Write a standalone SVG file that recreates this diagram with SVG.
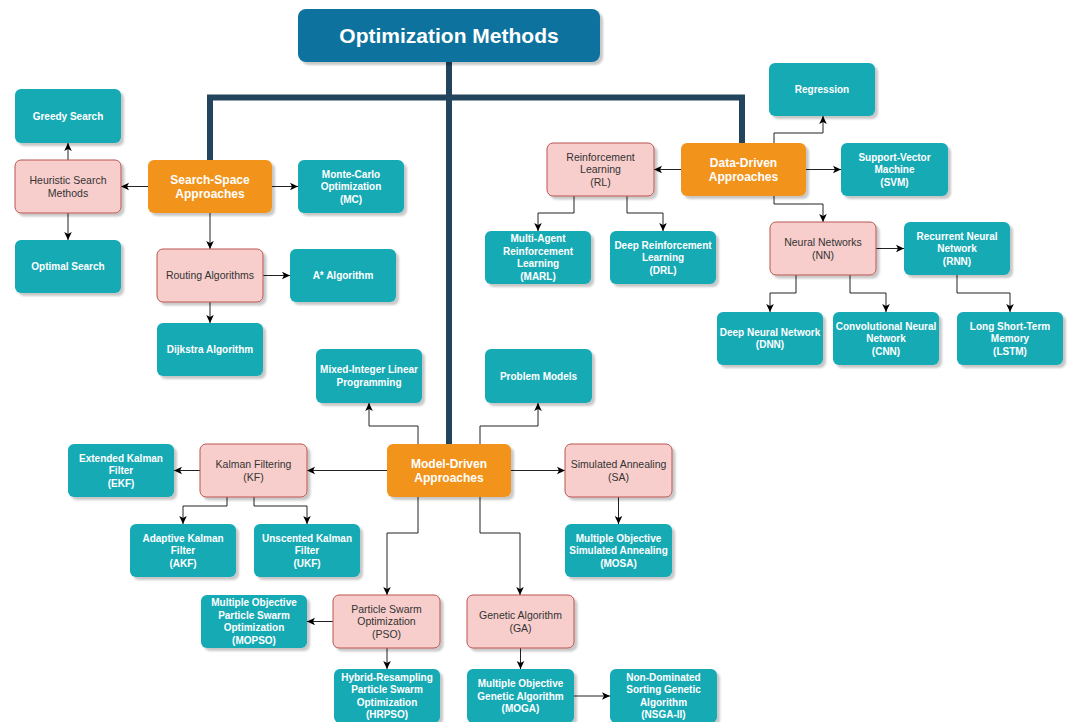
<svg xmlns="http://www.w3.org/2000/svg" width="1067" height="722" viewBox="0 0 1067 722">
<style>
.teal{fill:#12aab5;stroke:none}
.pink{fill:#f8cecc;stroke:#b85450;stroke-width:1}
.orange{fill:#f2931e;stroke:none}
.title{fill:#10739e;stroke:none}
.tt{font-family:"Liberation Sans",Arial,sans-serif;font-size:10px;font-weight:bold;fill:#ffffff;text-anchor:middle}
.pt{font-family:"Liberation Sans",Arial,sans-serif;font-size:10.5px;fill:#333333;text-anchor:middle}
.ot{font-family:"Liberation Sans",Arial,sans-serif;font-size:12px;font-weight:bold;fill:#ffffff;text-anchor:middle}
.ht{font-family:"Liberation Sans",Arial,sans-serif;font-size:21px;font-weight:bold;fill:#ffffff;text-anchor:middle}
.c{fill:none;stroke:#222222;stroke-width:1;marker-end:url(#arr)}
.thick{fill:none;stroke:#23445d;stroke-width:6}
</style>
<defs>
<filter id="sh" x="-10%" y="-10%" width="130%" height="130%">
<feOffset in="SourceAlpha" dx="2.5" dy="3"/>
<feGaussianBlur stdDeviation="1"/>
<feComponentTransfer><feFuncA type="linear" slope="0.22"/></feComponentTransfer>
<feMerge><feMergeNode/><feMergeNode in="SourceGraphic"/></feMerge>
</filter>
<marker id="arr" markerUnits="userSpaceOnUse" markerWidth="10" markerHeight="10" viewBox="0 0 10 10" refX="9" refY="5" orient="auto">
<path d="M1,1.2 L9,5 L1,8.8 L3,5 Z" fill="#000000"/>
</marker>
</defs>
<rect width="1067" height="722" fill="#ffffff"/>
<g id="connectors">
<path class="thick" d="M449,62 V444"/>
<path class="thick" d="M210,160 V97.5 H742 V143"/>
<path class="c" d="M148,186.5 H121"/>
<path class="c" d="M272,186.5 H298"/>
<path class="c" d="M210,213 V249"/>
<path class="c" d="M68,160 V143"/>
<path class="c" d="M68,213 V240"/>
<path class="c" d="M263,275.5 H290"/>
<path class="c" d="M210,302 V323"/>
<path class="c" d="M681,169.5 H654"/>
<path class="c" d="M806,169.5 H841"/>
<path class="c" d="M774,143 V133 H823 V116"/>
<path class="c" d="M774,196 V204 H823 V222"/>
<path class="c" d="M574,196 V213 H538 V231"/>
<path class="c" d="M627,196 V213 H663 V231"/>
<path class="c" d="M876,248.5 H904"/>
<path class="c" d="M796,275 V293 H770 V312"/>
<path class="c" d="M850,275 V293 H886 V312"/>
<path class="c" d="M957,275 V293 H1010 V312"/>
<path class="c" d="M387,470.5 H307"/>
<path class="c" d="M200,470.5 H174"/>
<path class="c" d="M227,497 V506 H183 V524"/>
<path class="c" d="M254,497 V506 H307 V524"/>
<path class="c" d="M418,444 V426 H369 V403"/>
<path class="c" d="M480,444 V426 H538 V403"/>
<path class="c" d="M511,470.5 H565"/>
<path class="c" d="M618.5,497 V524"/>
<path class="c" d="M418,497 V533 H387 V595"/>
<path class="c" d="M480,497 V533 H520 V595"/>
<path class="c" d="M333,621.5 H307"/>
<path class="c" d="M387,648 V669"/>
<path class="c" d="M520.5,648 V669"/>
<path class="c" d="M574,696 H610"/>
</g>
<g id="n-title"><rect class="title" filter="url(#sh)" x="298" y="9" width="302" height="53" rx="8"/><text class="ht" x="449" y="43">Optimization Methods</text></g>
<g id="n-greedy"><rect class="teal" filter="url(#sh)" x="15" y="89" width="106" height="54" rx="6"/><text class="tt" x="68" y="119.5">Greedy Search</text></g>
<g id="n-heuristic"><rect class="pink" filter="url(#sh)" x="15" y="160" width="106" height="53" rx="6"/><text class="pt" x="68" y="184"><tspan x="68">Heuristic Search</tspan><tspan x="68" dy="12.5">Methods</tspan></text></g>
<g id="n-optimal"><rect class="teal" filter="url(#sh)" x="15" y="240" width="106" height="53" rx="6"/><text class="tt" x="68" y="270">Optimal Search</text></g>
<g id="n-searchspace"><rect class="orange" filter="url(#sh)" x="148" y="160" width="124" height="53" rx="6"/><text class="ot" x="210" y="183.7"><tspan x="210">Search-Space</tspan><tspan x="210" dy="14">Approaches</tspan></text></g>
<g id="n-mc"><rect class="teal" filter="url(#sh)" x="298" y="160" width="106" height="53" rx="6"/><text class="tt" x="351" y="177.5"><tspan x="351">Monte-Carlo</tspan><tspan x="351" dy="12.5">Optimization</tspan><tspan x="351" dy="12.5">(MC)</tspan></text></g>
<g id="n-routing"><rect class="pink" filter="url(#sh)" x="157" y="249" width="106" height="53" rx="6"/><text class="pt" x="210" y="279.2">Routing Algorithms</text></g>
<g id="n-astar"><rect class="teal" filter="url(#sh)" x="290" y="249" width="106" height="53" rx="6"/><text class="tt" x="343" y="279">A* Algorithm</text></g>
<g id="n-dijkstra"><rect class="teal" filter="url(#sh)" x="157" y="323" width="106" height="53" rx="6"/><text class="tt" x="210" y="353">Dijkstra Algorithm</text></g>
<g id="n-regression"><rect class="teal" filter="url(#sh)" x="769" y="63" width="106" height="53" rx="6"/><text class="tt" x="822" y="93">Regression</text></g>
<g id="n-rl"><rect class="pink" filter="url(#sh)" x="547" y="143" width="107" height="53" rx="6"/><text class="pt" x="600.5" y="160.7"><tspan x="600.5">Reinforcement</tspan><tspan x="600.5" dy="12.5">Learning</tspan><tspan x="600.5" dy="12.5">(RL)</tspan></text></g>
<g id="n-datadriven"><rect class="orange" filter="url(#sh)" x="681" y="143" width="125" height="53" rx="6"/><text class="ot" x="743.5" y="166.7"><tspan x="743.5">Data-Driven</tspan><tspan x="743.5" dy="14">Approaches</tspan></text></g>
<g id="n-svm"><rect class="teal" filter="url(#sh)" x="841" y="143" width="107" height="53" rx="6"/><text class="tt" x="894.5" y="160.5"><tspan x="894.5">Support-Vector</tspan><tspan x="894.5" dy="12.5">Machine</tspan><tspan x="894.5" dy="12.5">(SVM)</tspan></text></g>
<g id="n-marl"><rect class="teal" filter="url(#sh)" x="485" y="231" width="106" height="53" rx="6"/><text class="tt" x="538" y="242.25"><tspan x="538">Multi-Agent</tspan><tspan x="538" dy="12.5">Reinforcement</tspan><tspan x="538" dy="12.5">Learning</tspan><tspan x="538" dy="12.5">(MARL)</tspan></text></g>
<g id="n-drl"><rect class="teal" filter="url(#sh)" x="610" y="231" width="106" height="53" rx="6"/><text class="tt" x="663" y="248.5"><tspan x="663">Deep Reinforcement</tspan><tspan x="663" dy="12.5">Learning</tspan><tspan x="663" dy="12.5">(DRL)</tspan></text></g>
<g id="n-nn"><rect class="pink" filter="url(#sh)" x="770" y="222" width="106" height="53" rx="6"/><text class="pt" x="823" y="246"><tspan x="823">Neural Networks</tspan><tspan x="823" dy="12.5">(NN)</tspan></text></g>
<g id="n-rnn"><rect class="teal" filter="url(#sh)" x="904" y="222" width="106" height="53" rx="6"/><text class="tt" x="957" y="239.5"><tspan x="957">Recurrent Neural</tspan><tspan x="957" dy="12.5">Network</tspan><tspan x="957" dy="12.5">(RNN)</tspan></text></g>
<g id="n-dnn"><rect class="teal" filter="url(#sh)" x="717" y="312" width="106" height="53" rx="6"/><text class="tt" x="770" y="335.75"><tspan x="770">Deep Neural Network</tspan><tspan x="770" dy="12.5">(DNN)</tspan></text></g>
<g id="n-cnn"><rect class="teal" filter="url(#sh)" x="833" y="312" width="106" height="53" rx="6"/><text class="tt" x="886" y="329.5"><tspan x="886">Convolutional Neural</tspan><tspan x="886" dy="12.5">Network</tspan><tspan x="886" dy="12.5">(CNN)</tspan></text></g>
<g id="n-lstm"><rect class="teal" filter="url(#sh)" x="957" y="312" width="106" height="53" rx="6"/><text class="tt" x="1010" y="329.5"><tspan x="1010">Long Short-Term</tspan><tspan x="1010" dy="12.5">Memory</tspan><tspan x="1010" dy="12.5">(LSTM)</tspan></text></g>
<g id="n-milp"><rect class="teal" filter="url(#sh)" x="316" y="349" width="106" height="54" rx="6"/><text class="tt" x="369" y="373.25"><tspan x="369">Mixed-Integer Linear</tspan><tspan x="369" dy="12.5">Programming</tspan></text></g>
<g id="n-pm"><rect class="teal" filter="url(#sh)" x="485" y="349" width="107" height="54" rx="6"/><text class="tt" x="538.5" y="379.5">Problem Models</text></g>
<g id="n-ekf"><rect class="teal" filter="url(#sh)" x="68" y="444" width="106" height="53" rx="6"/><text class="tt" x="121" y="461.5"><tspan x="121">Extended Kalman</tspan><tspan x="121" dy="12.5">Filter</tspan><tspan x="121" dy="12.5">(EKF)</tspan></text></g>
<g id="n-kf"><rect class="pink" filter="url(#sh)" x="200" y="444" width="107" height="53" rx="6"/><text class="pt" x="253.5" y="468"><tspan x="253.5">Kalman Filtering</tspan><tspan x="253.5" dy="12.5">(KF)</tspan></text></g>
<g id="n-modeldriven"><rect class="orange" filter="url(#sh)" x="387" y="444" width="124" height="53" rx="6"/><text class="ot" x="449" y="467.7"><tspan x="449">Model-Driven</tspan><tspan x="449" dy="14">Approaches</tspan></text></g>
<g id="n-sa"><rect class="pink" filter="url(#sh)" x="565" y="444" width="107" height="53" rx="6"/><text class="pt" x="618.5" y="468"><tspan x="618.5">Simulated Annealing</tspan><tspan x="618.5" dy="12.5">(SA)</tspan></text></g>
<g id="n-akf"><rect class="teal" filter="url(#sh)" x="130" y="524" width="106" height="53" rx="6"/><text class="tt" x="183" y="541.5"><tspan x="183">Adaptive Kalman</tspan><tspan x="183" dy="12.5">Filter</tspan><tspan x="183" dy="12.5">(AKF)</tspan></text></g>
<g id="n-ukf"><rect class="teal" filter="url(#sh)" x="254" y="524" width="106" height="53" rx="6"/><text class="tt" x="307" y="541.5"><tspan x="307">Unscented Kalman</tspan><tspan x="307" dy="12.5">Filter</tspan><tspan x="307" dy="12.5">(UKF)</tspan></text></g>
<g id="n-mosa"><rect class="teal" filter="url(#sh)" x="565" y="524" width="107" height="53" rx="6"/><text class="tt" x="618.5" y="541.5"><tspan x="618.5">Multiple Objective</tspan><tspan x="618.5" dy="12.5">Simulated Annealing</tspan><tspan x="618.5" dy="12.5">(MOSA)</tspan></text></g>
<g id="n-mopso"><rect class="teal" filter="url(#sh)" x="201" y="595" width="106" height="53" rx="6"/><text class="tt" x="254" y="606.25"><tspan x="254">Multiple Objective</tspan><tspan x="254" dy="12.5">Particle Swarm</tspan><tspan x="254" dy="12.5">Optimization</tspan><tspan x="254" dy="12.5">(MOPSO)</tspan></text></g>
<g id="n-pso"><rect class="pink" filter="url(#sh)" x="333" y="595" width="107" height="53" rx="6"/><text class="pt" x="386.5" y="612.7"><tspan x="386.5">Particle Swarm</tspan><tspan x="386.5" dy="12.5">Optimization</tspan><tspan x="386.5" dy="12.5">(PSO)</tspan></text></g>
<g id="n-ga"><rect class="pink" filter="url(#sh)" x="467" y="595" width="107" height="53" rx="6"/><text class="pt" x="520.5" y="619"><tspan x="520.5">Genetic Algorithm</tspan><tspan x="520.5" dy="12.5">(GA)</tspan></text></g>
<g id="n-hrpso"><rect class="teal" filter="url(#sh)" x="334" y="669" width="106" height="54" rx="6"/><text class="tt" x="387" y="680.75"><tspan x="387">Hybrid-Resampling</tspan><tspan x="387" dy="12.5">Particle Swarm</tspan><tspan x="387" dy="12.5">Optimization</tspan><tspan x="387" dy="12.5">(HRPSO)</tspan></text></g>
<g id="n-moga"><rect class="teal" filter="url(#sh)" x="467" y="669" width="107" height="54" rx="6"/><text class="tt" x="520.5" y="687"><tspan x="520.5">Multiple Objective</tspan><tspan x="520.5" dy="12.5">Genetic Algorithm</tspan><tspan x="520.5" dy="12.5">(MOGA)</tspan></text></g>
<g id="n-nsga"><rect class="teal" filter="url(#sh)" x="610" y="669" width="107" height="54" rx="6"/><text class="tt" x="663.5" y="680.75"><tspan x="663.5">Non-Dominated</tspan><tspan x="663.5" dy="12.5">Sorting Genetic</tspan><tspan x="663.5" dy="12.5">Algorithm</tspan><tspan x="663.5" dy="12.5">(NSGA-II)</tspan></text></g>
</svg>
